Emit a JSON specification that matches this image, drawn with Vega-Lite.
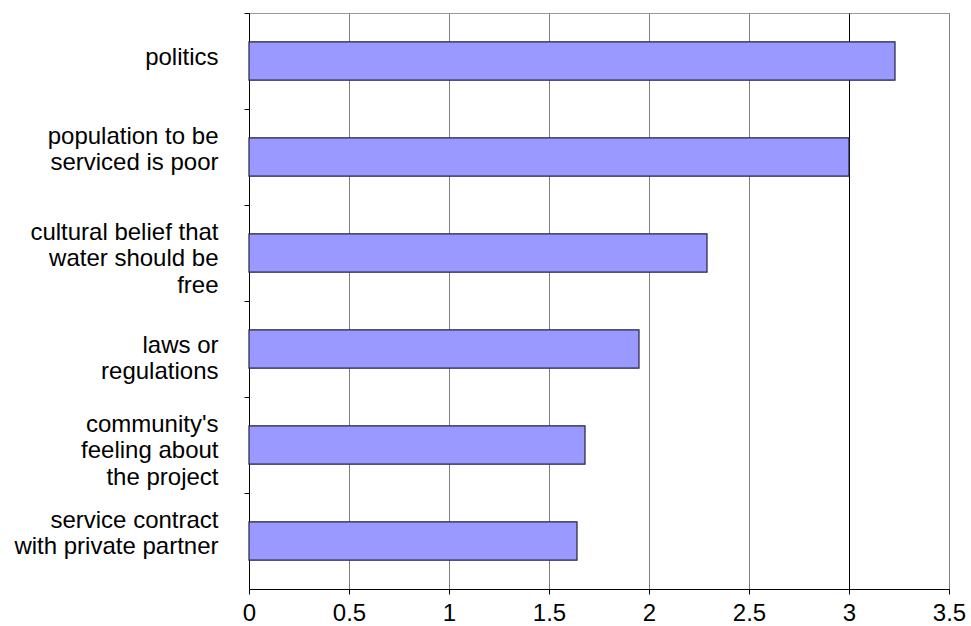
{
  "$schema": "https://vega.github.io/schema/vega-lite/v6.json",
  "width": 700,
  "height": 576,
  "autosize": {"type": "none"},
  "padding": {"left": 249, "top": 13, "right": 22, "bottom": 37},
  "background": "white",
  "config": {
    "view": {"stroke": "#999999", "strokeWidth": 1},
    "font": "Liberation Sans"
  },
  "data": {
    "values": [
      {"factor": "politics", "score": 3.23},
      {"factor": "population to be\nserviced is poor", "score": 3.0},
      {"factor": "cultural belief that\nwater should be\nfree", "score": 2.29},
      {"factor": "laws or\nregulations", "score": 1.95},
      {"factor": "community's\nfeeling about\nthe project", "score": 1.68},
      {"factor": "service contract\nwith private partner", "score": 1.64}
    ]
  },
  "mark": {"type": "bar", "fill": "#9999FF", "stroke": "#222244", "strokeWidth": 1.2},
  "encoding": {
    "y": {
      "field": "factor",
      "type": "nominal",
      "sort": null,
      "title": null,
      "scale": {"paddingInner": 0.6, "paddingOuter": 0.3},
      "axis": {
        "labelExpr": "split(datum.label, '\\n')",
        "labelFontSize": 24,
        "labelLineHeight": 26.5,
        "labelColor": "black",
        "labelPadding": 26,
        "tickOffset": -48,
        "labelOffset": {"condition": {"test": "datum.value === 'politics' || indexof(datum.value, 'laws') === 0", "value": 44}, "value": 27},
        "labelLimit": 300,
        "tickSize": 5,
        "tickColor": "black",
        "domainColor": "black",
        "grid": false
      }
    },
    "x": {
      "field": "score",
      "type": "quantitative",
      "title": null,
      "scale": {"domain": [0, 3.5], "nice": false},
      "axis": {
        "values": [0, 0.5, 1, 1.5, 2, 2.5, 3, 3.5],
        "format": "~g",
        "labelFontSize": 24,
        "labelColor": "black",
        "labelPadding": 7,
        "labelFlush": false,
        "tickSize": 5,
        "tickColor": "black",
        "domainColor": "black",
        "grid": true,
        "gridColor": {"condition": {"test": "datum.value === 3", "value": "black"}, "value": "#808080"},
        "gridOpacity": 1
      }
    }
  }
}
